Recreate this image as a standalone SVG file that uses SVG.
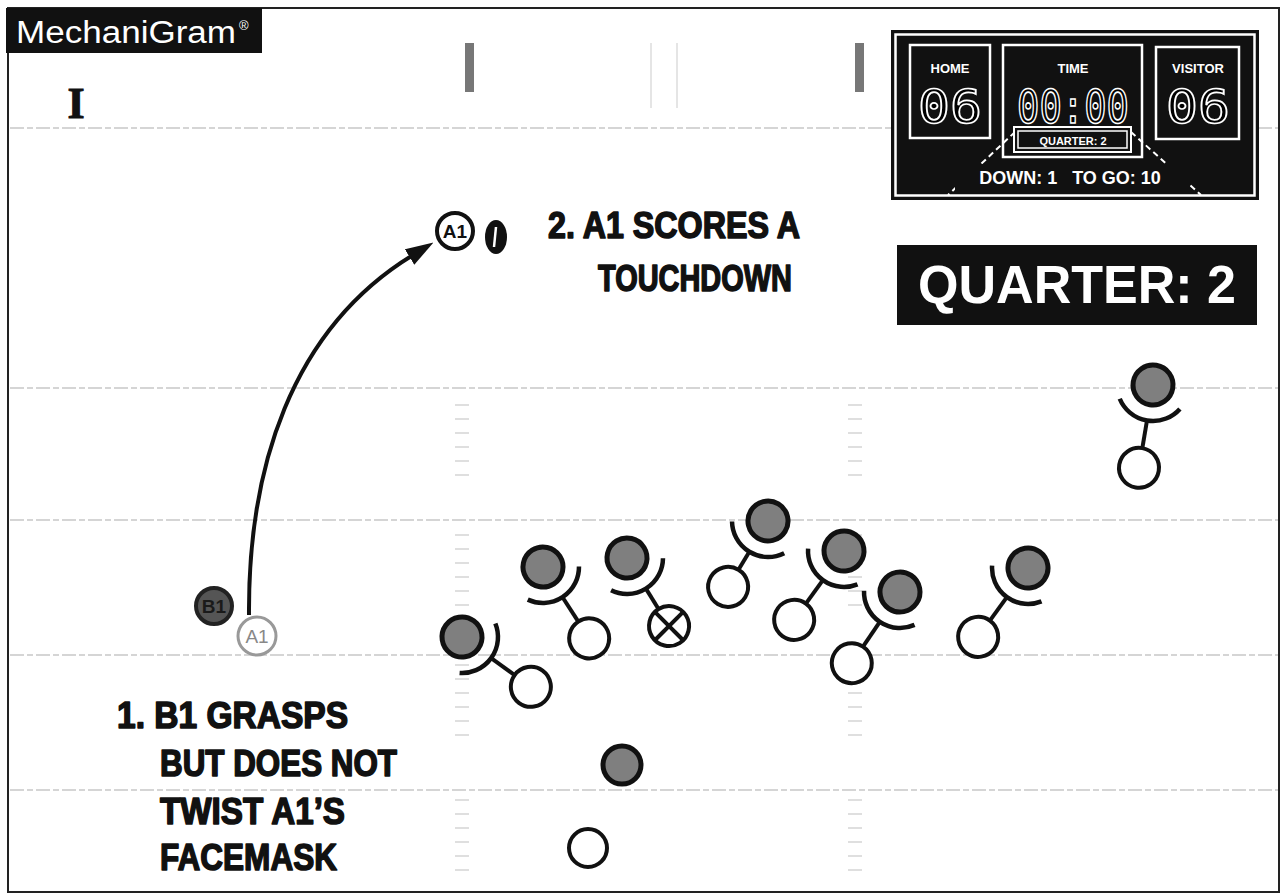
<svg xmlns="http://www.w3.org/2000/svg" xmlns:xlink="http://www.w3.org/1999/xlink" width="1283" height="896" viewBox="0 0 1283 896">
<style>
.shaded{fill:#7f7f7f;stroke:#111;stroke-width:5}
.open{fill:#fff;stroke:#111;stroke-width:4}
.stem{stroke:#111;stroke-width:4;fill:none}
.arc{stroke:#111;stroke-width:4.5;fill:none;stroke-linecap:butt}
.fld{stroke:#c8c8c8;stroke-width:1.5;stroke-dasharray:14 3 6 3}
.hash{stroke:#d4d4d4;stroke-width:1.5}
.cap{font-family:"Liberation Sans",Arial,sans-serif;font-weight:bold;fill:#111;stroke:#111;stroke-width:1.6;stroke-linejoin:round}
.sb{font-family:"Liberation Sans",Arial,sans-serif;font-weight:bold;fill:#fff}
.dig{font-family:"DejaVu Sans Mono","Liberation Mono",monospace;fill:#000;stroke:#fff;stroke-width:1.6}
.box{fill:none;stroke:#fff;stroke-width:2.5}
.lbl{font-family:"Liberation Sans",Arial,sans-serif;font-size:19px;text-anchor:middle}
</style>
<defs>
<path id="arc" class="arc" d="M19.1,-30.5 A36,36 0 0 1 19.1,30.5"/>
<marker id="ah" viewBox="0 0 28 18" refX="4" refY="9" markerWidth="28" markerHeight="18" markerUnits="userSpaceOnUse" orient="auto">
<path d="M0,0 L28,9 L0,18 z" fill="#111"/>
</marker>
<g id="hashcol">
<line class="hash" x1="0" y1="0" x2="14" y2="0"/>
<line class="hash" x1="0" y1="14" x2="14" y2="14"/>
<line class="hash" x1="0" y1="28" x2="14" y2="28"/>
<line class="hash" x1="0" y1="42" x2="14" y2="42"/>
<line class="hash" x1="0" y1="56" x2="14" y2="56"/>
<line class="hash" x1="0" y1="70" x2="14" y2="70"/>
</g>
</defs>
<rect x="0" y="0" width="1283" height="896" fill="#fff"/>

<g id="field">
<rect x="8" y="8" width="1271" height="884" fill="none" stroke="#222" stroke-width="2"/>
<line class="fld" x1="10" y1="128" x2="1278" y2="128"/>
<line class="fld" x1="10" y1="388" x2="1278" y2="388"/>
<line class="fld" x1="10" y1="520" x2="1278" y2="520"/>
<line class="fld" x1="10" y1="655" x2="1278" y2="655"/>
<line class="fld" x1="10" y1="790" x2="1278" y2="790"/>
<line x1="651" y1="43" x2="651" y2="108" stroke="#ddd" stroke-width="1.5"/>
<line x1="677" y1="43" x2="677" y2="108" stroke="#ddd" stroke-width="1.5"/>
<rect x="465" y="43" width="9" height="49" fill="#777"/>
<rect x="855" y="43" width="9" height="49" fill="#777"/>
<use xlink:href="#hashcol" x="455" y="405"/>
<use xlink:href="#hashcol" x="455" y="535"/>
<use xlink:href="#hashcol" x="455" y="665"/>
<use xlink:href="#hashcol" x="455" y="800"/>
<use xlink:href="#hashcol" x="848" y="405"/>
<use xlink:href="#hashcol" x="848" y="535"/>
<use xlink:href="#hashcol" x="848" y="665"/>
<use xlink:href="#hashcol" x="848" y="800"/>
</g>

<g id="logo">
<rect x="6" y="8" width="256" height="45" fill="#111"/>
<text x="16" y="43" font-family="Liberation Sans,Arial,sans-serif" font-size="31" fill="#fff" textLength="220" lengthAdjust="spacingAndGlyphs">MechaniGram</text>
<text x="239" y="30" font-family="Liberation Sans,Arial,sans-serif" font-size="13" fill="#fff">®</text>
</g>
<text id="period" x="76" y="118" text-anchor="middle" font-family="Liberation Serif,serif" font-weight="bold" font-size="44" fill="#111" stroke="#111" stroke-width="1">I</text>

<g id="scoreboard">
<rect x="891" y="30" width="368" height="170" fill="#111"/>
<rect x="895.5" y="34.5" width="359" height="161" class="box" stroke-width="1.8"/>
<rect x="910" y="45" width="80" height="93" class="box"/>
<rect x="1003" y="45" width="139" height="112" class="box"/>
<rect x="1156" y="47" width="83" height="92" class="box"/>
<text x="950" y="73" class="sb" font-size="13" text-anchor="middle">HOME</text>
<text x="1073" y="73" class="sb" font-size="13" text-anchor="middle">TIME</text>
<text x="1198" y="73" class="sb" font-size="13" text-anchor="middle">VISITOR</text>
<text x="950" y="123" class="dig" font-size="46" text-anchor="middle" textLength="64" lengthAdjust="spacingAndGlyphs">06</text>
<text x="1198" y="123" class="dig" font-size="46" text-anchor="middle" textLength="64" lengthAdjust="spacingAndGlyphs">06</text>
<text x="1073" y="123" class="dig" font-size="46" text-anchor="middle" textLength="112" lengthAdjust="spacingAndGlyphs">00:00</text>
<line x1="1015" y1="132" x2="948" y2="195" stroke="#fff" stroke-width="2" stroke-dasharray="6 4"/>
<line x1="1131" y1="132" x2="1201" y2="195" stroke="#fff" stroke-width="2" stroke-dasharray="6 4"/>
<rect x="1014" y="127" width="117" height="25" fill="#111" stroke="#fff" stroke-width="2"/>
<rect x="1018" y="131" width="109" height="17" fill="#111" stroke="#fff" stroke-width="1.5"/>
<text x="1073" y="144.5" class="sb" font-size="11" text-anchor="middle">QUARTER: 2</text>
<rect x="955" y="164" width="235" height="26" fill="#111"/>
<text x="1070" y="184" class="sb" font-size="18" text-anchor="middle" xml:space="preserve">DOWN: 1   TO GO: 10</text>
</g>

<g id="quarter">
<rect x="897" y="245" width="360" height="80" fill="#111"/>
<text x="1077" y="303" class="sb" font-size="54" text-anchor="middle" textLength="318" lengthAdjust="spacingAndGlyphs">QUARTER: 2</text>
</g>

<g id="connectors">
<path d="M249,615 C248,470 290,330 413,255" fill="none" stroke="#111" stroke-width="4" marker-end="url(#ah)"/>
</g>

<g id="b1">
<circle cx="214" cy="606" r="18" fill="#555" stroke="#222" stroke-width="4"/>
<text x="214" y="613" class="lbl" font-weight="bold" fill="#1a1a1a">B1</text>
</g>
<g id="a1-start">
<circle cx="257" cy="636" r="19" fill="#fff" stroke="#999" stroke-width="3"/>
<text x="257" y="643" class="lbl" fill="#888">A1</text>
</g>
<g id="a1-end">
<circle cx="455" cy="231" r="18" fill="#fff" stroke="#111" stroke-width="4"/>
<text x="455" y="238" class="lbl" font-weight="bold" fill="#111">A1</text>
</g>
<g id="ball">
<ellipse cx="496" cy="237" rx="11" ry="17" fill="#111"/>
<line x1="496" y1="227" x2="494" y2="247" stroke="#fff" stroke-width="2.5"/>
</g>

<g id="note2">
<text x="800" y="238" class="cap" font-size="37" text-anchor="end" textLength="252" lengthAdjust="spacingAndGlyphs">2. A1 SCORES A</text>
<text x="792" y="291" class="cap" font-size="37" text-anchor="end" textLength="194" lengthAdjust="spacingAndGlyphs">TOUCHDOWN</text>
</g>

<g id="note1">
<text x="117" y="728" class="cap" font-size="37" textLength="231" lengthAdjust="spacingAndGlyphs">1. B1 GRASPS</text>
<text x="160" y="776" class="cap" font-size="37" textLength="237" lengthAdjust="spacingAndGlyphs">BUT DOES NOT</text>
<text x="160" y="824" class="cap" font-size="37" textLength="185" lengthAdjust="spacingAndGlyphs">TWIST A1’S</text>
<text x="160" y="870" class="cap" font-size="37" textLength="177" lengthAdjust="spacingAndGlyphs">FACEMASK</text>
</g>

<g id="p1" transform="translate(462,637) rotate(35.9)">
<use xlink:href="#arc"/><line class="stem" x1="36" y1="0" x2="65" y2="0"/>
<circle class="open" cx="85" cy="0" r="20"/><circle class="shaded" cx="0" cy="0" r="20"/>
</g>
<g id="p2" transform="translate(543,567) rotate(57.1)">
<use xlink:href="#arc"/><line class="stem" x1="36" y1="0" x2="65" y2="0"/>
<circle class="open" cx="85" cy="0" r="20"/><circle class="shaded" cx="0" cy="0" r="20"/>
</g>
<g id="p3" transform="translate(627,558) rotate(58.3)">
<use xlink:href="#arc"/><line class="stem" x1="36" y1="0" x2="60" y2="0"/>
<circle class="open" cx="80" cy="0" r="20"/>
<g transform="translate(80,0) rotate(-13.3)"><line class="stem" x1="-19" y1="0" x2="19" y2="0"/><line class="stem" x1="0" y1="-19" x2="0" y2="19"/></g>
<circle class="shaded" cx="0" cy="0" r="20"/>
</g>
<g id="p4" transform="translate(768,521) rotate(121.2)">
<use xlink:href="#arc"/><line class="stem" x1="36" y1="0" x2="57" y2="0"/>
<circle class="open" cx="77" cy="0" r="20"/><circle class="shaded" cx="0" cy="0" r="20"/>
</g>
<g id="p5" transform="translate(844,551) rotate(125.9)">
<use xlink:href="#arc"/><line class="stem" x1="36" y1="0" x2="65" y2="0"/>
<circle class="open" cx="85" cy="0" r="20"/><circle class="shaded" cx="0" cy="0" r="20"/>
</g>
<g id="p6" transform="translate(900,592) rotate(124.1)">
<use xlink:href="#arc"/><line class="stem" x1="36" y1="0" x2="66" y2="0"/>
<circle class="open" cx="86" cy="0" r="20"/><circle class="shaded" cx="0" cy="0" r="20"/>
</g>
<g id="p7" transform="translate(1028,568) rotate(125.9)">
<use xlink:href="#arc"/><line class="stem" x1="36" y1="0" x2="65" y2="0"/>
<circle class="open" cx="85" cy="0" r="20"/><circle class="shaded" cx="0" cy="0" r="20"/>
</g>
<g id="p8" transform="translate(1153,385) rotate(99.6)">
<use xlink:href="#arc"/><line class="stem" x1="36" y1="0" x2="64" y2="0"/>
<circle class="open" cx="84" cy="0" r="20"/><circle class="shaded" cx="0" cy="0" r="20"/>
</g>
<g id="p9"><circle class="shaded" cx="622" cy="765" r="19"/></g>
<g id="p10"><circle class="open" cx="588" cy="848" r="19"/></g>
</svg>
